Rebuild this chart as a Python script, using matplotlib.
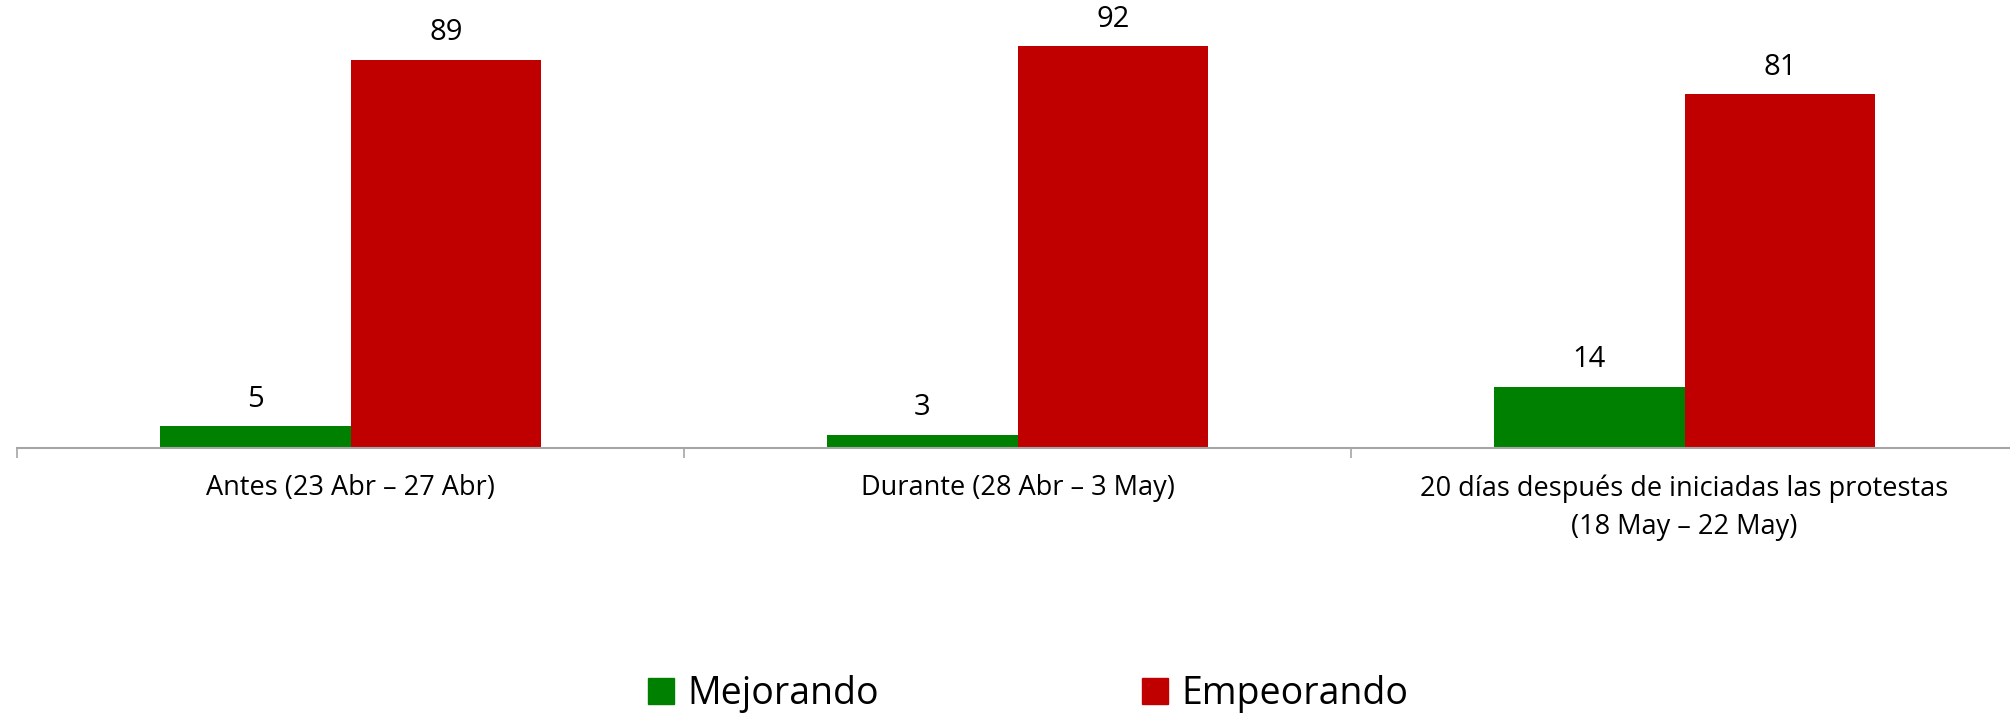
import matplotlib
matplotlib.use("Agg")
import matplotlib.pyplot as plt
import numpy as np
from matplotlib.patches import Patch

categories = ["Antes (23 Abr – 27 Abr)",
              "Durante (28 Abr – 3 May)",
              "20 días después de iniciadas las protestas\n(18 May – 22 May)"]
series_names = ["Mejorando", "Empeorando"]
mejorando = [5, 3, 14]
empeorando = [89, 92, 81]
colors = ["#008000", "#C00000"]

plt.rcParams['font.family'] = ['Open Sans', 'DejaVu Sans']

W, H = 2010, 718
fig = plt.figure(figsize=(W / 100, H / 100), dpi=100)
ax = fig.add_axes([17 / W, 1 - 448 / H, 2001 / W, 436.5 / H])

x = np.arange(len(categories))
bw = 0.2857
b1 = ax.bar(x - bw / 2, mejorando, bw, color=colors[0], label=series_names[0])
b2 = ax.bar(x + bw / 2, empeorando, bw, color=colors[1], label=series_names[1])

for bars in (b1, b2):
    txts = ax.bar_label(bars, padding=14, fontsize=21, color="black")
    for t in txts:
        t.set_va("baseline")

ax.set_xlim(-0.5, 2.5)
ax.set_ylim(0, 100)
ax.set_yticks([])
for s in ("left", "right", "top"):
    ax.spines[s].set_visible(False)
ax.spines["bottom"].set_color("#A6A6A6")
ax.spines["bottom"].set_linewidth(1.5)

ax.set_xticks(x)
ax.set_xticklabels(categories, fontsize=19.5, linespacing=1.5)
ax.tick_params(axis="x", which="major", length=0, pad=19)
ax.set_xticks(np.arange(-0.5, 2.6, 1.0), minor=True)
ax.tick_params(axis="x", which="minor", length=7, width=1.2, color="#A6A6A6")

handles = [Patch(facecolor=c, edgecolor=c) for c in colors]
fig.legend(handles, series_names, loc="center", bbox_to_anchor=(1028 / W, 1 - 694 / H),
           ncol=2, frameon=False, fontsize=27, handlelength=0.7, handleheight=0.7,
           handletextpad=0.35, columnspacing=7)

fig.savefig("out.png", dpi=100)
